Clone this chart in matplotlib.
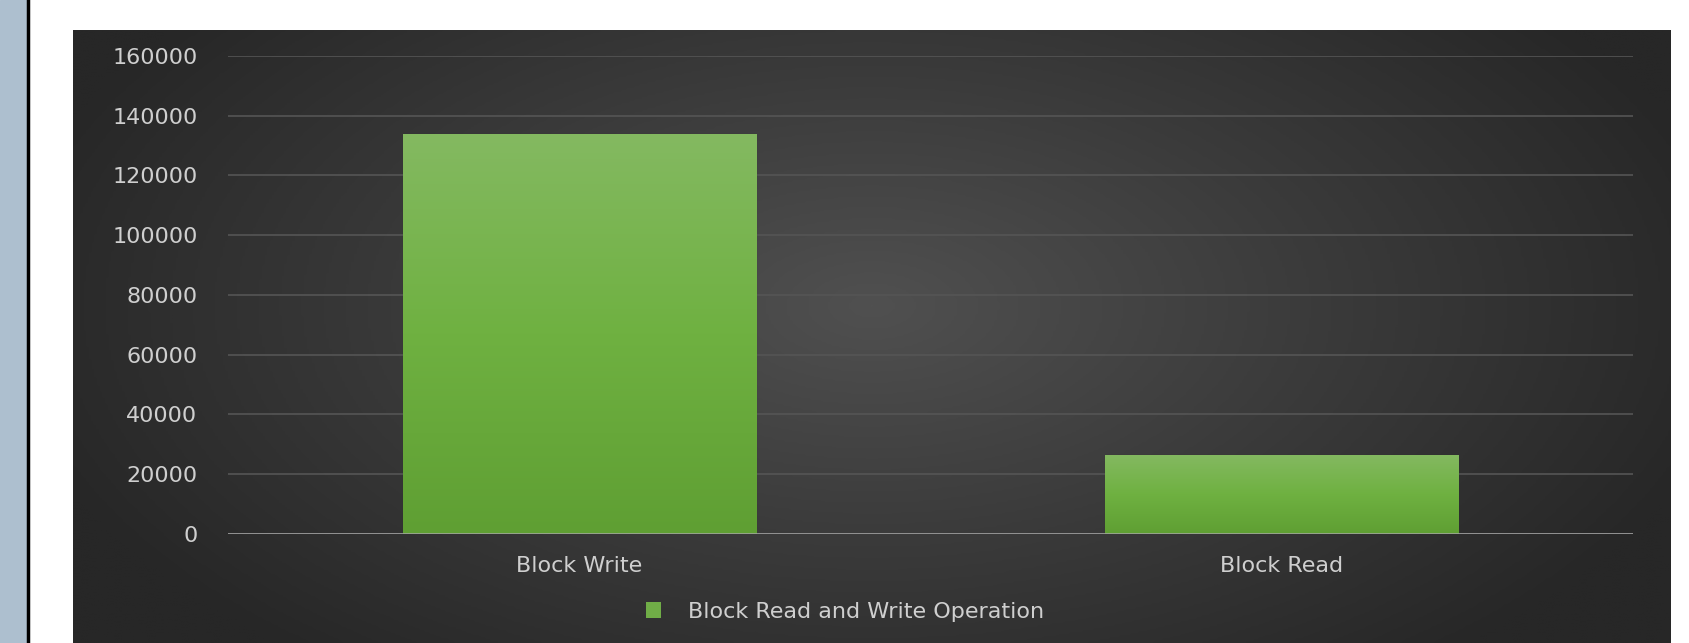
import numpy as np
import matplotlib.pyplot as plt
from matplotlib.colors import LinearSegmentedColormap

# data
categories = ['Block Write', 'Block Read']
values = [134000, 26500]
series_name = 'Block Read and Write Operation'
yticks = [0, 20000, 40000, 60000, 80000, 100000, 120000, 140000, 160000]

W, H = 1689, 643
fig = plt.figure(figsize=(W / 100, H / 100), dpi=100, facecolor='white')

# left strip of the slide
strip = fig.add_axes([0, 0, 27 / W, 1])
strip.set_axis_off()
strip.add_patch(plt.Rectangle((0, 0), 1, 1, transform=strip.transAxes, color='#adbfcf'))
fig.add_artist(plt.Line2D([28 / W, 28 / W], [0, 1], color='black', lw=2.5))

# dark panel with radial gradient
bg = fig.add_axes([73 / W, 0, (1671 - 73) / W, (643 - 30) / H])
bg.set_axis_off()
yy, xx = np.mgrid[0:1:300j, 0:1:600j]
r = np.sqrt(((xx - 0.5) / 0.55) ** 2 + ((yy - 0.45) / 0.75) ** 2)
bg_cmap = LinearSegmentedColormap.from_list('bg', ['#505050', '#3b3b3b', '#272727'])
bg.imshow(np.clip(r, 0, 1), cmap=bg_cmap, aspect='auto', extent=[0, 1, 0, 1],
          interpolation='bilinear', vmin=0, vmax=1)
bg.set_xlim(0, 1)
bg.set_ylim(0, 1)

# main chart
ax = fig.add_axes([228 / W, 109 / H, (1633 - 228) / W, (534 - 56) / H])
ax.set_facecolor('none')
x = np.arange(len(categories))
bars = ax.bar(x, values, width=0.503, color='#70ad47', zorder=3,
              edgecolor='#2c3a25', linewidth=0.8, label=series_name)

bar_cmap = LinearSegmentedColormap.from_list('bar', ['#5f9f33', '#6fb141', '#84b961'])
grad = np.linspace(0, 1, 256).reshape(-1, 1)
for b in bars:
    x0, w, h = b.get_x(), b.get_width(), b.get_height()
    im = ax.imshow(grad, cmap=bar_cmap, aspect='auto', origin='lower',
                   extent=[x0, x0 + w, 0, h], zorder=3.5, interpolation='bilinear')
    im.set_clip_path(b)

ax.set_xlim(-0.5, 1.5)
ax.set_ylim(0, 160000)
ax.set_yticks(yticks)
ax.set_yticklabels([str(v) for v in yticks])
ax.set_xticks(x)
ax.set_xticklabels(categories)
ax.yaxis.grid(True, color='#555555', lw=1.2, zorder=0)
ax.axhline(0, color='#a6a6a6', lw=1.8, zorder=4)
for s in ax.spines.values():
    s.set_visible(False)
ax.tick_params(axis='y', length=0, pad=22, labelsize=16, labelcolor='#cfcfcf')
ax.tick_params(axis='x', length=0, pad=16, labelsize=16, labelcolor='#cfcfcf')

leg = ax.legend(loc='center', bbox_to_anchor=(845 / W, (H - 612) / H),
                bbox_transform=fig.transFigure, frameon=False, fontsize=16,
                labelcolor='#cfcfcf', handlelength=0.7, handleheight=0.7,
                handletextpad=1.2)
for hnd in leg.legend_handles:
    hnd.set_edgecolor('none')
    hnd.set_facecolor('#70ad47')

fig.savefig('out.png', dpi=100, facecolor='white')
